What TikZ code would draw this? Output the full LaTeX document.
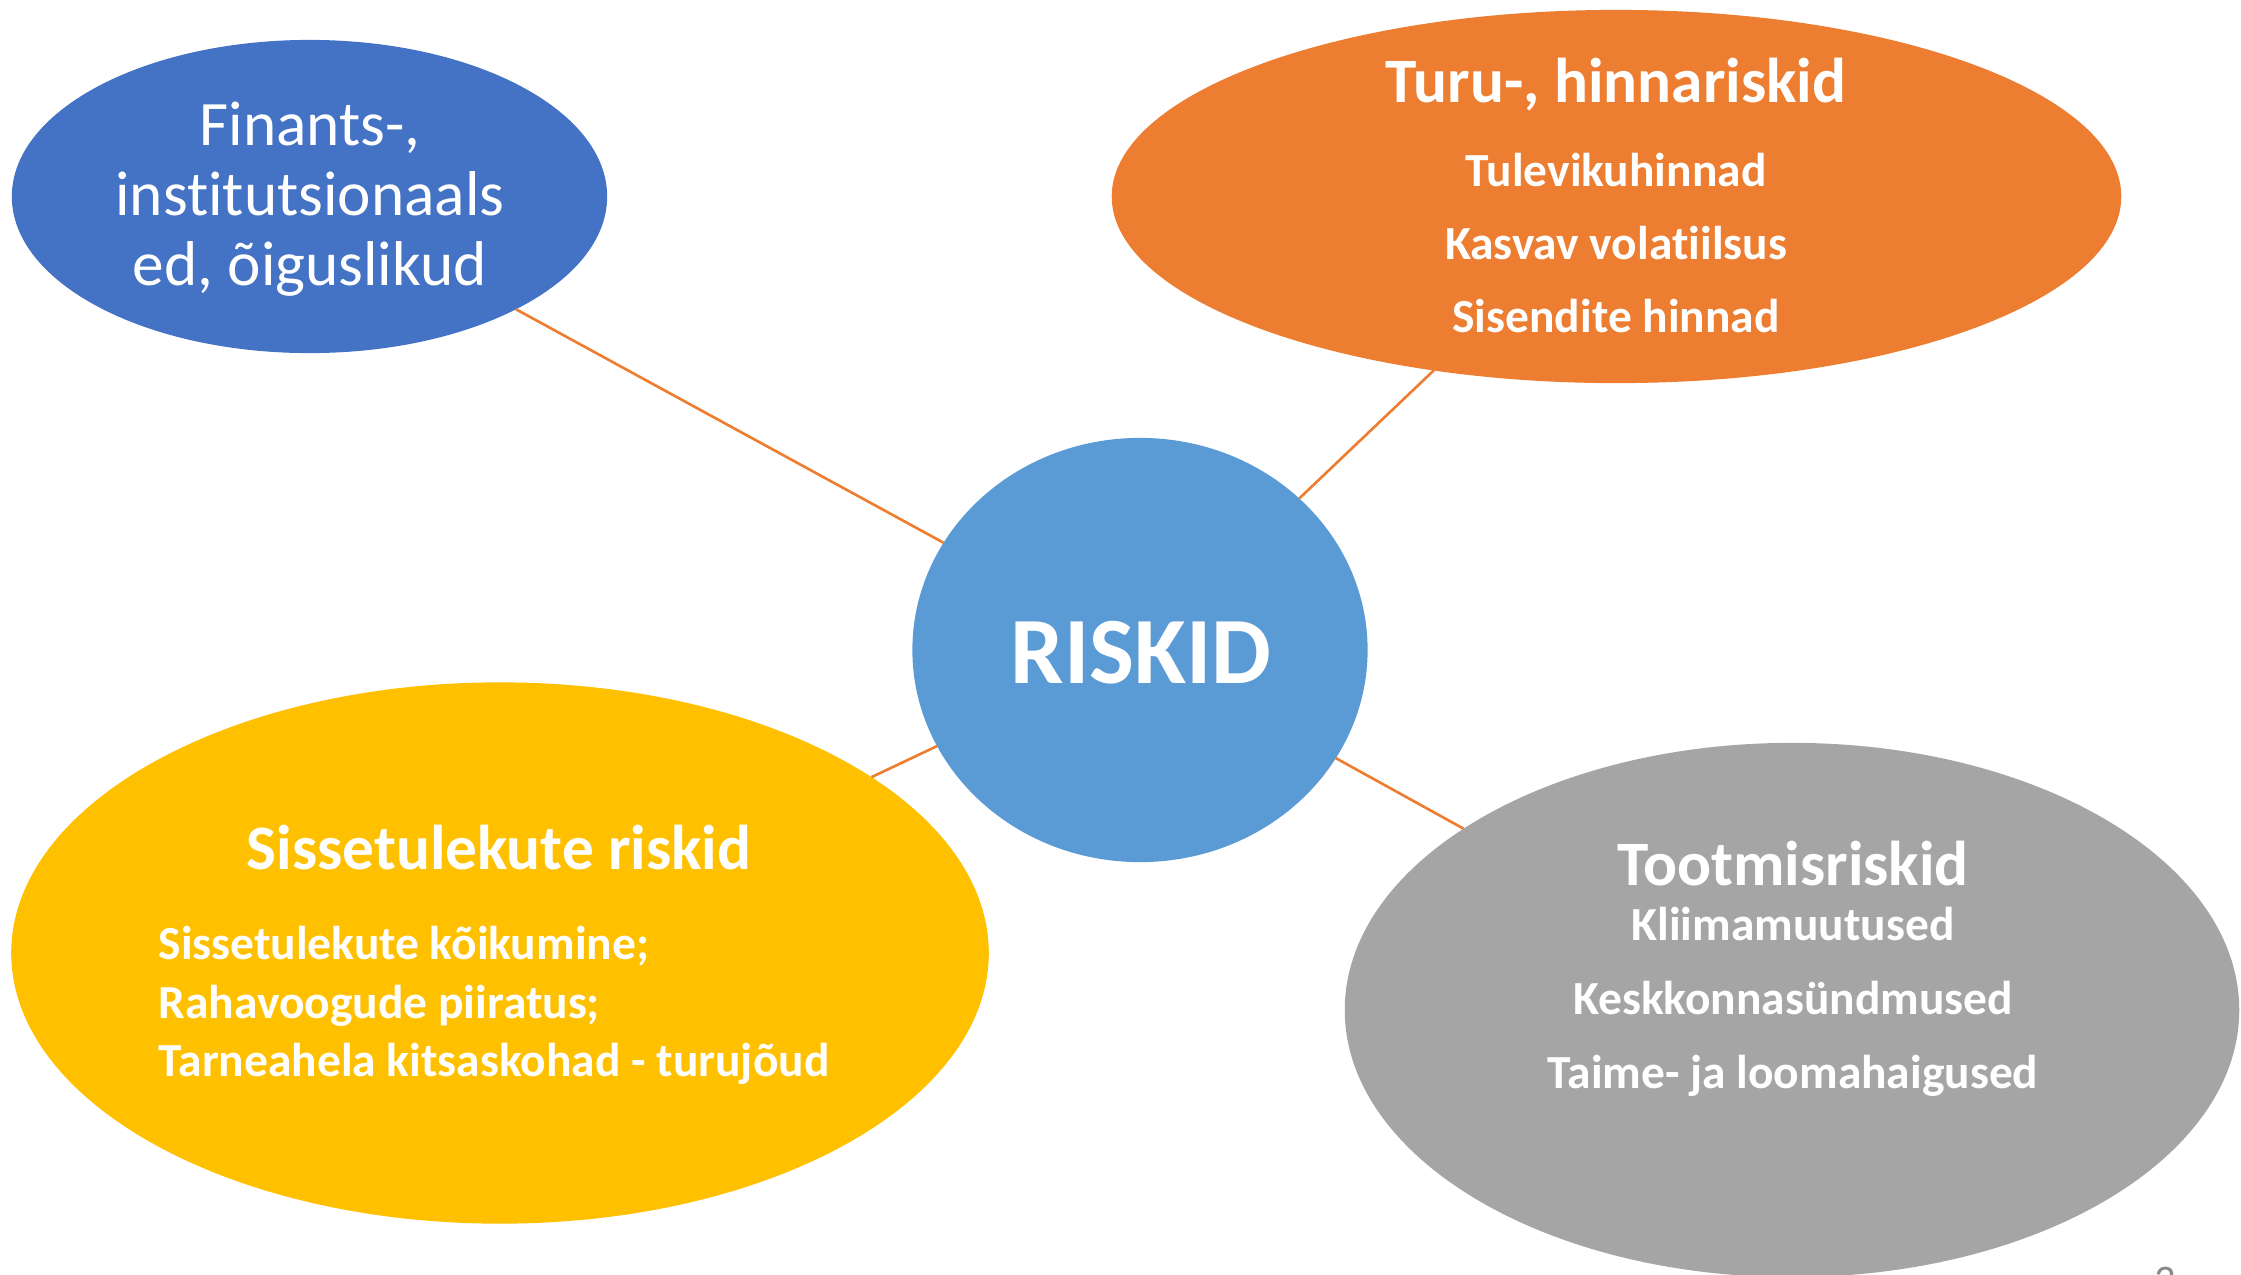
\documentclass[tikz,border=0pt]{standalone}
\usepackage{fontspec}
\setmainfont{Carlito}[Ligatures=NoCommon]
\usepackage{tikz}
\usetikzlibrary{shapes.geometric}
\usetikzlibrary{positioning}
\definecolor{cblue}{HTML}{4472C4}
\definecolor{corange}{HTML}{ED7D31}
\definecolor{ccenter}{HTML}{5B9BD5}
\definecolor{cyellow}{HTML}{FFC000}
\definecolor{cgrey}{HTML}{A5A5A5}
\definecolor{cpage}{HTML}{898989}
\tikzset{blob/.style = {ellipse, draw=none, inner sep=0pt, outer sep=0pt},
         link/.style = {draw=corange, line width=0.75pt},
         title/.style = {text=white, inner sep=0pt, anchor=base,
                         font=\bfseries\fontsize{18}{20}\selectfont},
         item/.style = {text=white, inner sep=0pt, anchor=base,
                        font=\bfseries\fontsize{13.5}{16.5}\selectfont},
         plain/.style = {text=white, inner sep=0pt, anchor=base,
                         font=\fontsize{18}{20}\selectfont}}

\begin{document}
\begin{tikzpicture}[x=0.01cm, y=-0.01cm]
    \useasboundingbox (0, 0) rectangle (2241, 1275);
    % the five bubbles
    \node [blob, fill=cblue, minimum width=5.95cm, minimum height=3.13cm] (fin) at (309.5, 196.5) {};
    \node [blob, fill=corange, minimum width=10.09cm, minimum height=3.73cm] (turu) at (1616.5, 196.5) {};
    \node [blob, fill=ccenter, minimum width=4.55cm, minimum height=4.24cm] (risk) at (1140, 650) {};
    \node [blob, fill=cyellow, minimum width=9.77cm, minimum height=5.41cm] (sis) at (500, 953) {};
    \node [blob, fill=cgrey, minimum width=8.94cm, minimum height=5.34cm] (toot) at (1792, 1010) {};
    \foreach \b in {fin, turu, sis, toot}
      \draw [link] (risk) -- (\b);
    % texts
    \node [plain] (fin-1) at (310, 145) {Finants-,};
    \node [plain] (fin-2) at (310, 215) {institutsionaals};
    \node [plain] (fin-3) at (310, 285) {ed, õiguslikud};
    \node [text=white, inner sep=0pt, anchor=base, font=\bfseries\fontsize{27}{30}\selectfont] (risk-t) at (1141, 683) {RISKID};
    \node [title] (turu-t) at (1616, 102) {Turu-, hinnariskid};
    \foreach \txt [count=\i] in {Tulevikuhinnad, Kasvav volatiilsus, Sisendite hinnad}
      \node [item] (turu-\i) at (1616, 113+73*\i) {\txt};
    \node [title] (sis-t) at (499, 869) {Sissetulekute riskid};
    \foreach \txt [count=\i] in {Sissetulekute kõikumine;, Rahavoogude piiratus;, Tarneahela kitsaskohad - turujõud}
      \node [item, anchor=base west] (sis-\i) at (158, 901+58.5*\i) {\txt};
    \node [title] (toot-t) at (1793, 885) {Tootmisriskid};
    \foreach \txt [count=\i] in {Kliimamuutused, Keskkonnasündmused, Taime- ja loomahaigused}
      \node [item] (toot-\i) at (1793, 866+74*\i) {\txt};
    \node [text=cpage, inner sep=0pt, anchor=north, font=\fontsize{12}{14}\selectfont] (page) at (2165, 1266) {3};
  \end{tikzpicture}
\end{document}
